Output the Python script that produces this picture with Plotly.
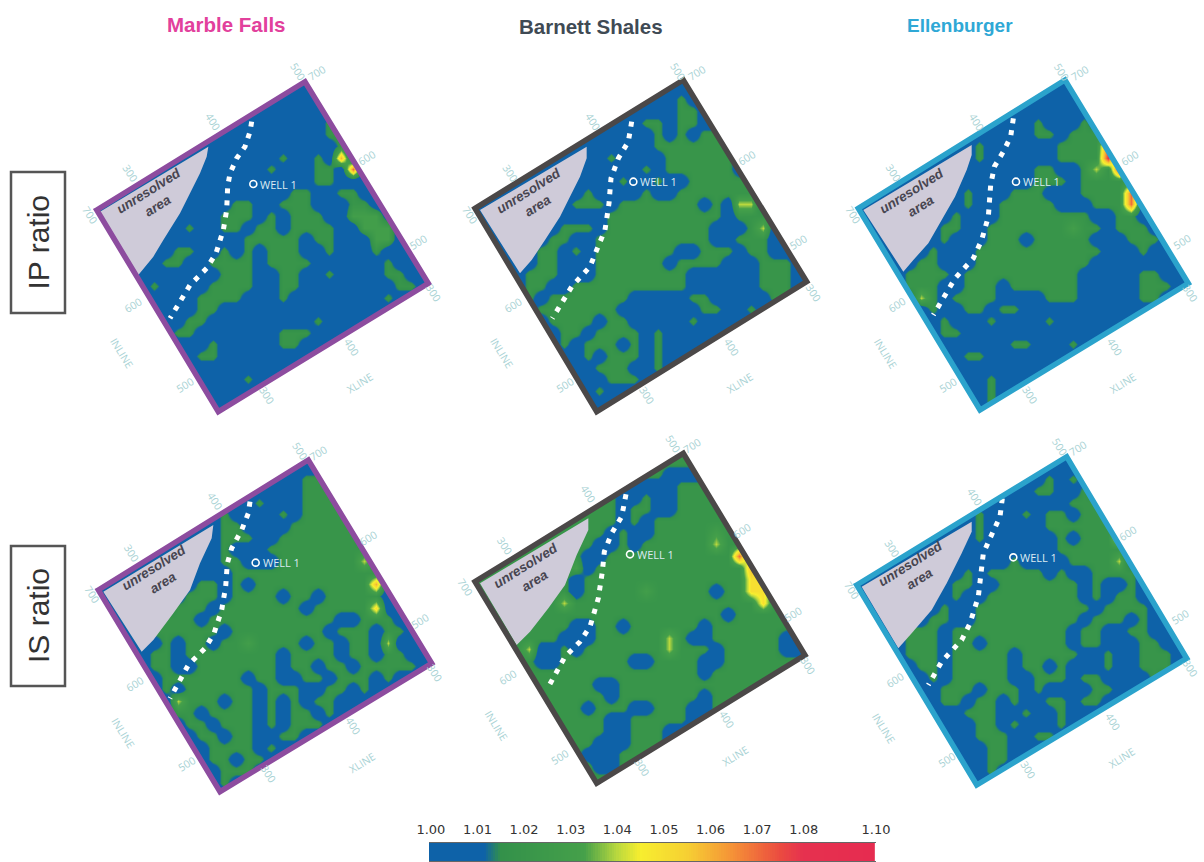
import plotly.graph_objects as go
import numpy as np

# ---- ratio grids: 30 x 30 cells, each digit d = ratio 1.00 + d*0.01 ('.' = 1.00)
IP_MARBLE = [
"", "", "", "",
"....................2",
"....................22",
".....................2",
"................2..2.6",
"...............2...22.7",
"...................22",
".................22..22",
"............22..222...22",
"...........222.2.222..333",
"........2..22.22.2222..333",
".............22222.22...33",
".......22..2.2.222..2...2",
"......22..2222.2222......2",
"...........222..22..2....22",
".....2....2222..22........22",
".........2222...2........2",
".........22",
"........22.........2",
".......22.......222",
"..........2.....22",
".........22",
"",
".............2",
"", "", "",
]
IP_BARNETT = [
"", "",
"..................2",
"..................22",
"...............22.22",
"................2.2.22",
"................2222222",
"............2....222222",
"...............2.222222",
".............2..2..222222",
"..........2....2..2222222",
".........222.2222222.2.44",
"............2222222222.2222",
"........222.222222222...24",
".......22..2222222222..222",
"......22.2.2222222..222.22",
"......22...222222.2222...222",
".....222...22222222......222",
".....22..2222222222......222",
".....2.2222222.....22.....22",
"......2222222.......22..2",
".......2222.22.....2",
"........22.2222.2",
"........2.222.2.2",
"..........2.222.2",
"...........222..2",
"............222",
"...........2",
"", "",
]
IP_ELLEN = [
"", "", "", "",
"................2...2",
"................22.222",
"...........2......22227",
"...........2......22228",
"................22..2428",
"................222.22222",
"..........2...222...22227",
"..........2..22222...2227",
".........2...22222222..22",
"........22..2222222322.222",
"........2...222.22222...222",
".......2...22222222222...2",
"......22...2222222222",
".....2222.2222222222.....22",
".....222..222.222222.....222",
"......42.2222....222.....22",
".......2..22.22",
"........2...2....2",
"........22",
"..............22...2",
"..........22",
"",
"............2",
"............2",
"............2",
"",
]
IS_MARBLE = [
"", "",
"..................22",
"..................222",
"..............2...2222",
"...........2....2.22222",
"...........22....222222",
"...........222..2222222",
"...........2...222222222",
"...........22...222222242",
"............2222222222222",
".........22.2.22222222226",
"........222.2222.22.22222",
".......222.2222222.222225",
"......222.22222222222..222",
".....222222.22222222.222.22",
"......2.22.2232222.22.22.4",
".....22.22222222.2222.22.22",
".....22..2222222.22.22.22222",
"......2222222.22..22.222.2",
"......2.222222.222..22.2",
".......4222.22.2.2.22",
".......22.2222.2.22.2",
"........22.222.2.222",
".........22.22..22",
"..........2222.2",
"..........22.22",
"...........222",
"...........2",
"",
]
IS_BARNETT = [
"", "",
"22222222222222222....2",
"22222222222222....22",
"2222222222222..2..22",
"2222222222222.22..22",
"2222222222222.2.22",
"222222222222.2..222223",
"22222222222..2.2222224",
"2222222222..222222222227",
"2222222223.22222222222226",
"222222222.2222222222222255",
"222222222.22222322222.2255",
"22222222422222222222222225",
"2222222222222222222222.2",
"222222222..22.222222.2",
"22222222...22222242..222222.22",
"222224..2.22222224222.22222..2",
"222222..222222..2222..2",
"22222222222222222222.2",
"22222222222..2",
"222222222222.2222222.2",
"2222222222.222..222..2",
"222222222222..22222..2",
"222222222222..222...2",
"22222222222...222..2",
"2222222222...2",
"22222222222..2",
"", "",
]
IS_ELLEN = [
"", "",
".................2.2",
"................22..2",
"...................222",
"...........2...2.22.222",
"...........2.....222222",
"...........2......2.2226",
"..................222222",
"..............2....22224",
"..........2.22222.2..2222",
".........22..2222222.2..2",
".........2..22222222.2.22",
"........2..2222222222.2222",
".......22..222222222.222.2",
".....222.2222222222.22..22",
".....222.22.2222222.22...22",
".....222.22222.22222..2..222",
"......22.22222.22.2...2..222",
".......2.22222..222.22....2",
"........222.222.2....22",
"........22.22.2..22.22",
"..........222..2..2",
"...........22.2...2",
"...........222..22",
"............22",
"............22",
"............2",
"", "",
]
COLUMN_TITLES = ["Marble Falls", "Barnett Shales", "Ellenburger"]
ROW_TITLES = ["IP ratio", "IS ratio"]
CBAR_TICKS = [1.00, 1.01, 1.02, 1.03, 1.04, 1.05, 1.06, 1.07, 1.08, 1.0955]
CBAR_TEXT = ["1.00", "1.01", "1.02", "1.03", "1.04", "1.05", "1.06", "1.07", "1.08", "1.10"]

# ---- layout of the six rotated panels (window origin, corners, decorations in window units of 1/3 px)
PURPLE, DARK, CYAN = "#8d4c9f", "#4b4848", "#2ba3cc"
PANELS = [
 dict(g=IP_MARBLE, fill=".", o=(90, 70), c=PURPLE, q=[(20,420),(645,35),(1015,640),(385,1025)],
      grey=[(30,425),(355,230),(350,260),(330,310),(300,370),(270,430),(220,510),(190,560),(145,615)],
      dots=[(485,155),(480,185),(465,230),(440,265),(420,310),(413,350),(410,420),(400,480),(378,550),(350,595),(300,645),(240,745)],
      well=(490,342), txt=(190,385), d=(0,0)),
 dict(g=IP_BARNETT, fill=".", o=(465, 70), c=DARK, q=[(30,415),(655,30),(1025,635),(395,1025)],
      grey=[(45,420),(365,230),(365,265),(345,320),(310,390),(285,440),(240,510),(200,570),(165,610)],
      dots=[(500,155),(490,215),(460,265),(438,325),(432,400),(420,480),(395,540),(375,590),(320,650),(262,745)],
      well=(505,335), txt=(205,385), d=(15,0)),
 dict(g=IP_ELLEN, fill=".", o=(845, 70), c=CYAN, q=[(40,415),(660,30),(1030,640),(405,1020)],
      grey=[(55,420),(380,225),(380,255),(365,300),(330,380),(290,450),(250,520),(205,570),(175,605)],
      dots=[(505,145),(497,200),(475,245),(448,290),(437,345),(430,440),(410,510),(385,565),(330,625),(290,690),(265,735)],
      well=(513,335), txt=(215,385), d=(25,0)),
 dict(g=IS_MARBLE, fill=".", o=(90, 450), c=PURPLE, q=[(25,420),(655,30),(1025,640),(390,1025)],
      grey=[(40,425),(370,225),(365,265),(330,340),(300,420),(250,490),(190,570),(155,605)],
      dots=[(480,155),(475,190),(455,240),(425,295),(412,340),(407,410),(395,480),(372,550),(345,595),(295,645),(240,745)],
      well=(497,338), txt=(205,375), d=(5,-2)),
 dict(g=IS_BARNETT, fill="2", o=(465, 445), c=DARK, q=[(30,410),(655,25),(1020,630),(395,1015)],
      grey=[(45,415),(370,220),(370,255),(335,330),(300,420),(250,490),(195,560),(155,600)],
      dots=[(483,148),(470,215),(440,265),(418,320),(412,380),(400,460),(375,545),(345,590),(300,635),(245,735)],
      well=(495,328), txt=(195,385), d=(0,-8)),
 dict(g=IS_ELLEN, fill=".", o=(845, 450), c=CYAN, q=[(35,405),(665,20),(1025,625),(395,1005)],
      grey=[(50,410),(380,215),(380,245),(350,310),(305,400),(260,480),(200,550),(160,595)],
      dots=[(472,145),(465,200),(435,265),(415,310),(408,370),(400,440),(375,520),(350,570),(290,635),(250,705)],
      well=(505,322), txt=(210,365), d=(20,-15)),
]
AXIS_LABELS = [("700",680,10,-32),("500",625,5,58),("400",370,155,58),("300",120,310,58),("700",0,435,58),
               ("600",830,265,-32),("500",985,515,-32),("300",1030,670,58),("600",130,705,-32),("500",285,945,-32),
               ("300",530,975,58),("400",785,830,58),("INLINE",95,850,58),("XLINE",810,940,-32)]

COLORS = [(0,"#0e62a8"),(0.115,"#0e62a8"),(0.15,"#33914a"),(0.33,"#45a04a"),(0.40,"#b9d83e"),(0.45,"#f7ee2f"),
          (0.55,"#f6d033"),(0.65,"#f59037"),(0.75,"#eb4b40"),(0.80,"#e6314f"),(1,"#e62a50")]

N, CELL = 30, 35/3
fig = go.Figure()
shapes, annotations = [], []

def px(o, p):
    return o[0] + p[0]/3, o[1] + p[1]/3

for P in PANELS:
    o = P["o"]
    rows = [r.ljust(N, P["fill"])[:N] for r in P["g"]]
    z = [[1.0 + (0 if ch == "." else int(ch))*0.01 for ch in r] for r in rows]
    fig.add_trace(go.Heatmap(z=z, x=[o[0]+(i+.5)*CELL for i in range(N)], y=[o[1]+(i+.5)*CELL for i in range(N)],
                             coloraxis="coloraxis", zsmooth="best", hoverinfo="skip"))
    gx, gy = zip(*[px(o, p) for p in P["grey"]])
    fig.add_trace(go.Scatter(x=gx, y=gy, fill="toself", fillcolor="#cfcbd9", mode="none", hoverinfo="skip"))
    dx, dy = zip(*[px(o, p) for p in P["dots"]])
    fig.add_trace(go.Scatter(x=dx, y=dy, mode="lines", line=dict(color="white", width=5, dash="5px,7px"), hoverinfo="skip"))
    wx, wy = px(o, P["well"])
    fig.add_trace(go.Scatter(x=[wx], y=[wy], mode="markers", hoverinfo="skip",
                             marker=dict(symbol="circle-open", size=7, color="white", line=dict(color="#e8f6fb", width=1.6))))
    annotations.append(dict(x=wx+5, y=wy, xref="x", yref="y", text="WELL 1", showarrow=False, xanchor="left",
                            font=dict(family="Open Sans", size=11, color="#dcebf2")))
    tx, ty = px(o, P["txt"])
    annotations.append(dict(x=tx, y=ty, xref="x", yref="y", text="<b><i>unresolved<br>area</i></b>", showarrow=False,
                            textangle=-32, font=dict(family="Liberation Sans", size=13.5, color="#474550")))
    quad = [px(o, p) for p in P["q"]]
    x0, y0 = o[0]-3, o[1]-3; x1, y1 = o[0]+353, o[1]+353
    qpath = "M " + " L ".join(f"{a:.1f},{b:.1f}" for a, b in quad) + " Z"
    shapes.append(dict(type="path", xref="x", yref="y", layer="above", line=dict(width=0), fillcolor="white", fillrule="evenodd",
                       path=f"M {x0},{y0} L {x1},{y0} L {x1},{y1} L {x0},{y1} Z {qpath}"))
    shapes.append(dict(type="path", xref="x", yref="y", layer="above", line=dict(color=P["c"], width=5.5), path=qpath))
    for t, lx, ly, ang in AXIS_LABELS:
        ax, ay = px(o, (lx+P["d"][0], ly+P["d"][1]))
        annotations.append(dict(x=min(ax, 1190), y=ay, xref="x", yref="y", text=t, showarrow=False, textangle=ang,
                                font=dict(family="Open Sans", size=10.5, color="#a8d2d4")))

# column and row titles
for t, x, y, col, sz in zip(COLUMN_TITLES, (226, 591, 960), (24, 26, 25), ("#e2409c", "#3f4a54", "#2fa8d6"), (20.5, 20.5, 19)):
    annotations.append(dict(x=x, y=y, xref="x", yref="y", text=f"<b>{t}</b>", showarrow=False,
                            font=dict(family="Liberation Sans", size=sz, color=col)))
for t, (a, b) in zip(ROW_TITLES, ((172, 313), (546, 686))):
    shapes.append(dict(type="rect", xref="x", yref="y", x0=11, x1=65, y0=a, y1=b, layer="above",
                       line=dict(color="#555555", width=2.5), fillcolor="white"))
    annotations.append(dict(x=38, y=(a+b)/2, xref="x", yref="y", text=t, showarrow=False, textangle=-90,
                            font=dict(family="Liberation Sans", size=30, color="#333333")))

# colour bar
cb = np.arange(0.9996, 1.0956, 0.0005)
fig.add_trace(go.Heatmap(z=[list(cb)], x=list(cb), y=[0], coloraxis="coloraxis", xaxis="x2", yaxis="y2", hoverinfo="skip"))

fig.update_layout(
    width=1204, height=862, margin=dict(l=0, r=0, t=0, b=0, autoexpand=False), paper_bgcolor="white", plot_bgcolor="white", showlegend=False,
    xaxis=dict(range=[0, 1204], domain=[0, 1], visible=False, fixedrange=True),
    yaxis=dict(range=[862, 0], domain=[0, 1], visible=False, fixedrange=True),
    xaxis2=dict(domain=[429/1204, 876/1204], anchor="y2", side="top", range=[0.9996, 1.0955], tickvals=CBAR_TICKS, ticktext=CBAR_TEXT,
                ticks="outside", ticklen=3, tickcolor="white", showgrid=False, zeroline=False, showline=True, mirror=True,
                linecolor="#666666", linewidth=1, tickfont=dict(family="DejaVu Sans", size=13, color="#333333")),
    yaxis2=dict(domain=[1/862, 19/862], anchor="x2", visible=False, range=[-0.5, 0.5]),
    coloraxis=dict(cmin=1.0, cmax=1.10, colorscale=COLORS, showscale=False),
    shapes=shapes, annotations=annotations,
)
fig.write_html("out.html", config=dict(displayModeBar=False), post_script="document.body.style.margin='0';")
